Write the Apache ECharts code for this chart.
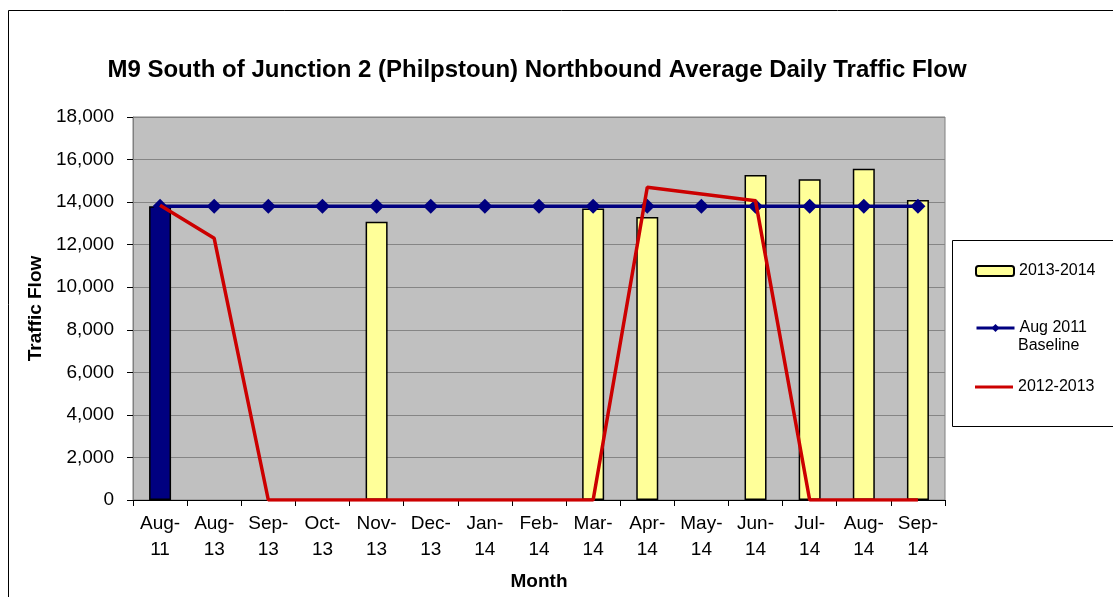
<!DOCTYPE html>
<html>
<head>
<meta charset="utf-8">
<script src="https://cdn.jsdelivr.net/npm/echarts@6/dist/echarts.min.js"></script>
<style>
html, body { margin: 0; padding: 0; background: #fff; }
#chart { width: 1113px; height: 597px; }
</style>
</head>
<body>
<div id="chart"></div>
<script>
var months = ['Aug-\n11', 'Aug-\n13', 'Sep-\n13', 'Oct-\n13', 'Nov-\n13', 'Dec-\n13', 'Jan-\n14',
	'Feb-\n14', 'Mar-\n14', 'Apr-\n14', 'May-\n14', 'Jun-\n14', 'Jul-\n14', 'Aug-\n14', 'Sep-\n14'];
// 2013-2014 bars (first one is the Aug 2011 count, drawn navy)
var flow1314 = [13800, null, null, null, 13080, null, null, null, 13700, 13300, null, 15270, 15070, 15570, 14100];
var baseline = [13800, 13800, 13800, 13800, 13800, 13800, 13800, 13800, 13800, 13800, 13800, 13800, 13800, 13800, 13800];
var flow1213 = [13850, 12300, 0, 0, 0, 0, 0, 0, 0, 14700, 14380, 14060, 0, 0, 0];
var yTicks = [0, 2000, 4000, 6000, 8000, 10000, 12000, 14000, 16000, 18000];

var barData = flow1314.map(function(v, i) {
	if (i == 0) return { value: v, itemStyle: { color: '#000080' } };
	return v;
});

var font = 'Liberation Sans, Arial, sans-serif';
var legendText = { fontFamily: font, fontSize: 16, color: '#000' };

var chart = echarts.init(document.getElementById('chart'));
var option = {
	backgroundColor: '#fff',
	animation: false,
	title: {
		text: 'M9 South of Junction 2 (Philpstoun) Northbound Average Daily Traffic Flow',
		left: 532,
		textAlign: 'center',
		top: 53,
		textStyle: { fontFamily: font, fontWeight: 'bold', fontSize: 24, color: '#000' }
	},
	graphic: [
		{ type: 'rect', shape: { x: 8.5, y: 10.5, width: 1200, height: 700 }, style: { fill: 'none', stroke: '#000', lineWidth: 1 }, silent: true },
		{ type: 'rect', shape: { x: 952.5, y: 240.5, width: 200, height: 186 }, style: { fill: '#fff', stroke: '#000', lineWidth: 1 }, silent: true, z: 0 },
		{ type: 'text', left: 1018, top: 338, style: { text: 'Baseline', fontFamily: font, fontSize: 16, fill: '#000' }, silent: true, z: 10 }
	],
	legend: [
		{ data: ['2013-2014'], left: 970, top: 258, itemWidth: 38, itemHeight: 10, textStyle: legendText },
		{ data: ['Aug 2011 Baseline'], left: 970, top: 315, itemWidth: 38, itemHeight: 10,
			lineStyle: { width: 3 },
			formatter: function() { return 'Aug 2011'; },
			textStyle: legendText },
		{ data: [{ name: '2012-2013', icon: 'rect' }], left: 970, top: 374, itemWidth: 38, itemHeight: 3, textStyle: legendText }
	],
	grid: {
		left: 133, right: 168, top: 117, bottom: 97,
		show: true, backgroundColor: '#C0C0C0', borderColor: '#808080', borderWidth: 1
	},
	xAxis: {
		type: 'category',
		data: months,
		name: 'Month',
		nameLocation: 'middle',
		nameGap: 72,
		nameTextStyle: { fontFamily: font, fontWeight: 'bold', fontSize: 19, color: '#000' },
		axisLine: { lineStyle: { color: '#000' } },
		axisTick: { show: true, length: 6, interval: 0, lineStyle: { color: '#000' } },
		axisLabel: { interval: 0, fontFamily: font, fontSize: 19, color: '#000', lineHeight: 26, margin: 11 }
	},
	yAxis: {
		type: 'value',
		min: 0,
		max: 18000,
		interval: 2000,
		name: 'Traffic Flow',
		nameLocation: 'middle',
		nameGap: 74,
		nameTextStyle: { fontFamily: font, fontWeight: 'bold', fontSize: 19, color: '#000' },
		axisLine: { show: true, lineStyle: { color: '#808080' } },
		axisTick: { show: true, length: 6, lineStyle: { color: '#000' } },
		splitLine: { show: true, lineStyle: { color: '#858585', width: 1 } },
		axisLabel: {
			fontFamily: font, fontSize: 19, color: '#000', margin: 19,
			formatter: function(v) { return yTicks.indexOf(v) >= 0 ? v.toLocaleString('en-US') : ''; }
		}
	},
	series: [
		{
			name: '2013-2014',
			type: 'bar',
			data: barData,
			barWidth: 22,
			itemStyle: { color: '#FFFF99', borderColor: '#000', borderWidth: 1.5 }
		},
		{
			name: 'Aug 2011 Baseline',
			type: 'line',
			data: baseline,
			symbol: 'diamond',
			symbolSize: 15,
			itemStyle: { color: '#000080' },
			lineStyle: { color: '#000080', width: 3.5 },
			z: 3
		},
		{
			name: '2012-2013',
			type: 'line',
			data: flow1213,
			symbol: 'none',
			itemStyle: { color: '#CC0000' },
			lineStyle: { color: '#CC0000', width: 3.5 },
			z: 4
		}
	]
};
chart.setOption(option);
</script>
</body>
</html>
